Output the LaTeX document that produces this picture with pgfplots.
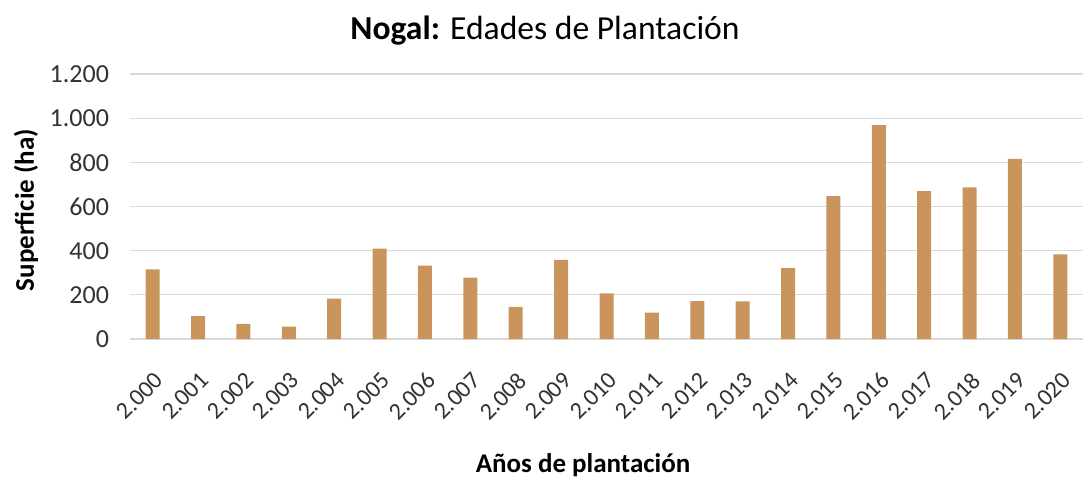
\documentclass[border=0pt]{standalone}
\usepackage{pgfplots}
\pgfplotsset{compat=1.18}
\usepackage{fontspec}
\setmainfont{Carlito}
\definecolor{barc}{RGB}{201,149,93}
\definecolor{gridc}{RGB}{217,217,217}
\definecolor{tickc}{RGB}{50,50,50}
\begin{document}
\begin{tikzpicture}[x=1pt,y=1pt]
\useasboundingbox (0,0) rectangle (541.5,241.5);
\begin{axis}[
  at={(65pt,72pt)}, anchor=south west,
  scale only axis, width=476.5pt, height=132.5pt,
  xmin=-0.5, xmax=20.5, ymin=0, ymax=1200,
  ytick={0,200,...,1200},
  xtick={0,...,20},
  xticklabels={2.000,2.001,2.002,2.003,2.004,2.005,2.006,2.007,2.008,2.009,2.010,2.011,2.012,2.013,2.014,2.015,2.016,2.017,2.018,2.019,2.020},
  ybar, bar width=7pt,
  axis x line*=bottom, axis y line*=left,
  x axis line style={draw=gridc, line width=0.6pt, -},
  y axis line style={draw=none},
  major tick length=0pt,
  ymajorgrids, grid style={draw=gridc, line width=0.6pt},
  yticklabel style={font=\fontsize{13}{13}\selectfont, text=tickc, xshift=-7pt},
  xticklabel style={font=\fontsize{12}{12}\selectfont, text=tickc, rotate=45, anchor=north east, xshift=-7.5pt, yshift=-8pt},
  /pgf/number format/assume math mode=true,
  /pgf/number format/1000 sep={.},
  scaled y ticks=false,
]
\addplot[fill=barc, draw=none] coordinates {
(0,315) (1,104) (2,68) (3,56) (4,183) (5,409) (6,332) (7,278) (8,145) (9,358)
(10,207) (11,119) (12,172) (13,170) (14,321) (15,647) (16,969) (17,670) (18,687) (19,816) (20,383)
};
\end{axis}
\node[font=\fontsize{16.8}{16.8}\selectfont, text=black] at (272.5,226) {\textbf{Nogal:} Edades de Plantación};
\node[font=\bfseries\fontsize{13.5}{13.5}\selectfont, text=black] at (291.5,9) {Años de plantación};
\node[rotate=90, font=\bfseries\fontsize{13.5}{13.5}\selectfont, text=black] at (13,136.5) {Superficie (ha)};
\end{tikzpicture}
\end{document}
